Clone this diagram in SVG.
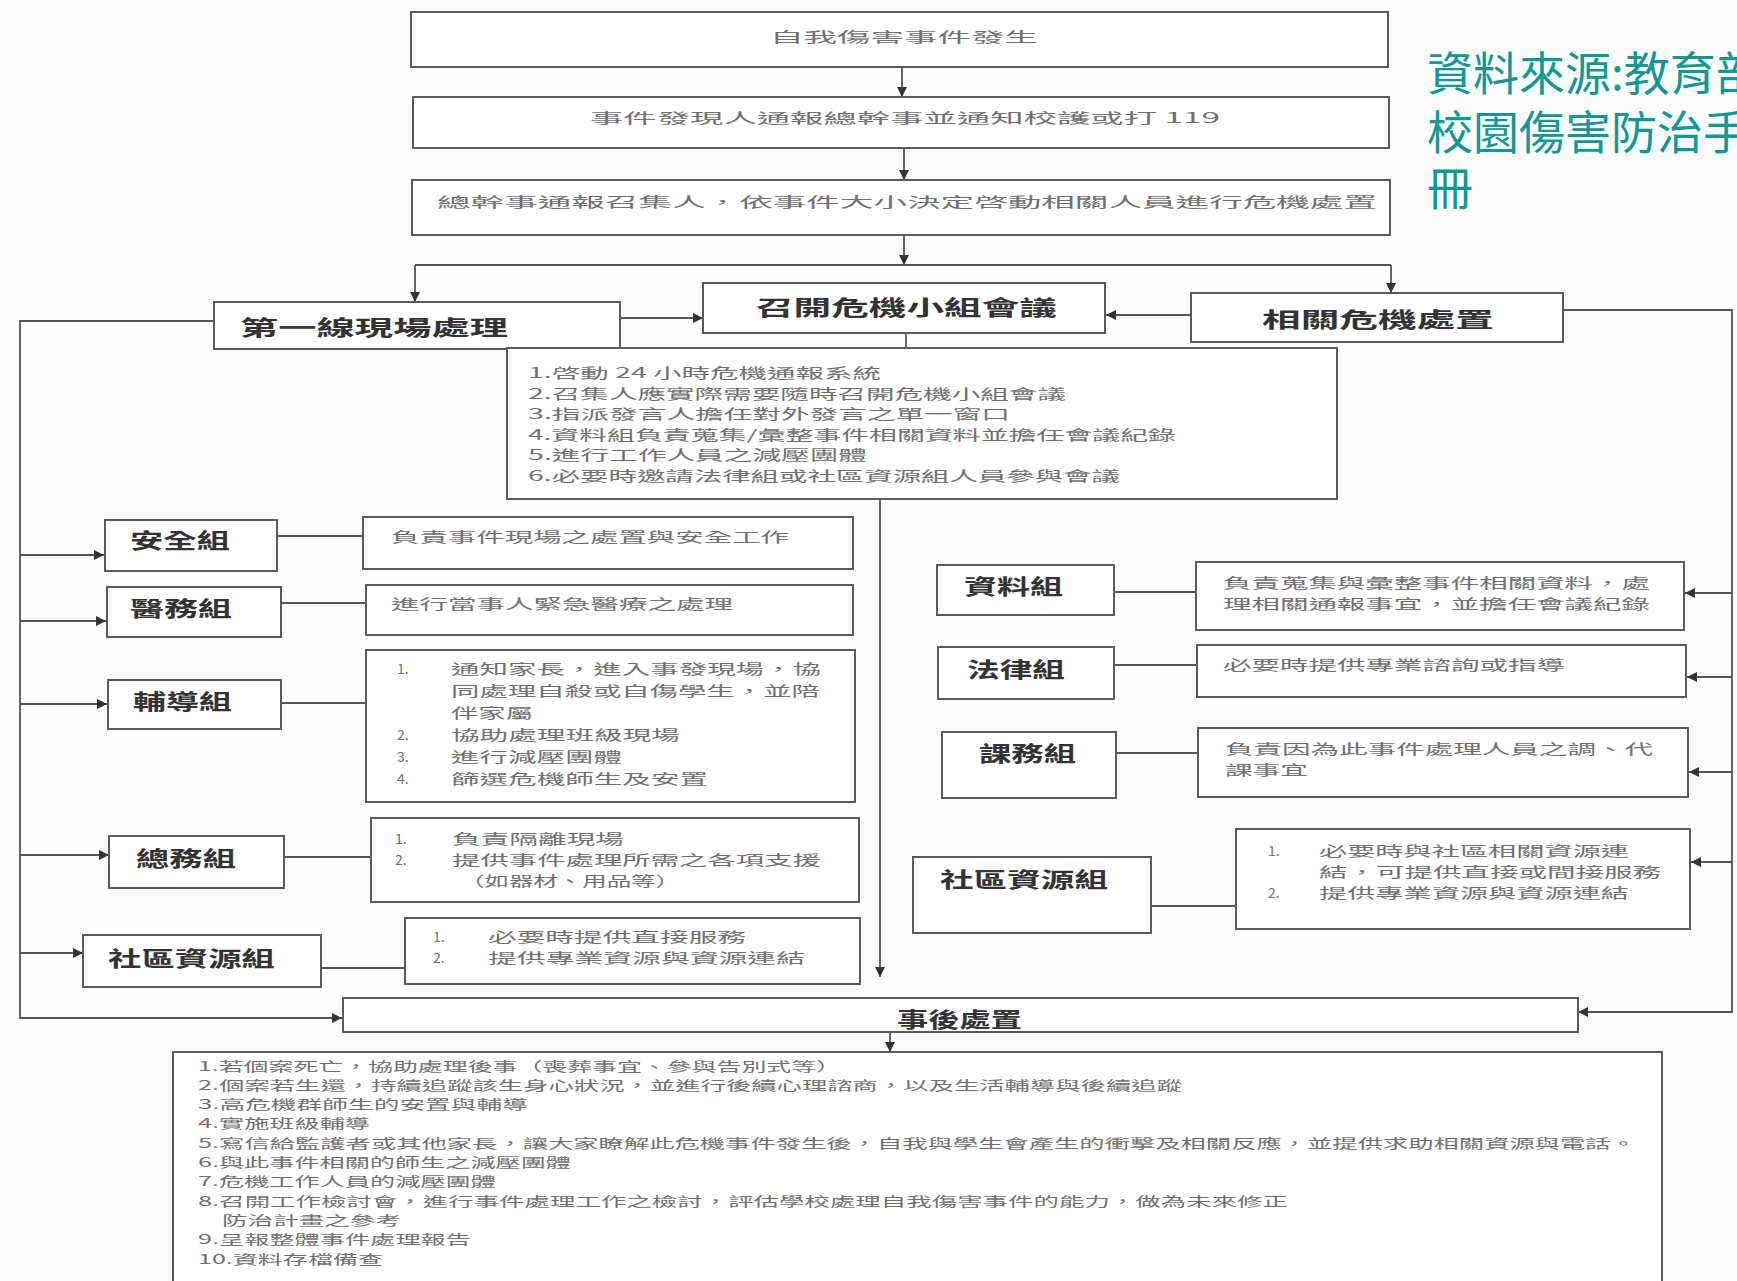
<svg xmlns="http://www.w3.org/2000/svg" width="1737" height="1281" viewBox="0 0 1737 1281">
<defs>
<style>
.bx{fill:#fff;stroke:#5a5a5a;stroke-width:2}
.ln{fill:none;stroke:#555;stroke-width:1.8}
.t{font-family:"Noto Sans CJK TC","Noto Sans CJK SC",sans-serif;fill:#707070;font-size:14px;dominant-baseline:central}
.b{font-family:"Noto Sans CJK TC","Noto Sans CJK SC",sans-serif;fill:#333;font-weight:bold;font-size:21px;dominant-baseline:central}
.s{font-size:13px}
.src{font-family:"Noto Sans CJK TC","Noto Sans CJK SC",sans-serif;fill:#0f9898;font-size:46px}
</style>
<marker id="ah" viewBox="0 0 10 10" refX="10" refY="5" markerWidth="10" markerHeight="10" markerUnits="userSpaceOnUse" orient="auto">
<path d="M0,0 L10,5 L0,10 z" fill="#333"/>
</marker>
</defs>
<rect x="0" y="0" width="1737" height="1281" fill="#fcfcfc"/>

<g id="source">
<text class="src" x="1427" y="90">資料來源:教育部<tspan x="1427" dy="59">校園傷害防治手</tspan><tspan x="1427" dy="56">冊</tspan></text>
</g>

<g id="connectors">
<path class="ln" d="M902,67 V97" marker-end="url(#ah)"/>
<path class="ln" d="M904,148 V180" marker-end="url(#ah)"/>
<path class="ln" d="M904,235 V265" marker-end="url(#ah)"/>
<path class="ln" d="M415,265 H1391"/>
<path class="ln" d="M415,265 V302" marker-end="url(#ah)"/>
<path class="ln" d="M1391,265 V293" marker-end="url(#ah)"/>
<path class="ln" d="M620,318 H703" marker-end="url(#ah)"/>
<path class="ln" d="M1191,315 H1106" marker-end="url(#ah)"/>
<path class="ln" d="M906,333 V348"/>
<path class="ln" d="M880,499 V977" marker-end="url(#ah)"/>
<path class="ln" d="M890,1033 V1052" marker-end="url(#ah)"/>
<path class="ln" d="M214,321 H20 V1018 H342" marker-end="url(#ah)"/>
<path class="ln" d="M20,555 H104" marker-end="url(#ah)"/>
<path class="ln" d="M20,621 H106" marker-end="url(#ah)"/>
<path class="ln" d="M20,704 H107" marker-end="url(#ah)"/>
<path class="ln" d="M20,855 H109" marker-end="url(#ah)"/>
<path class="ln" d="M20,953 H83" marker-end="url(#ah)"/>
<path class="ln" d="M1563,310 H1732 V1012 H1578" marker-end="url(#ah)"/>
<path class="ln" d="M1732,593 H1685" marker-end="url(#ah)"/>
<path class="ln" d="M1732,677 H1687" marker-end="url(#ah)"/>
<path class="ln" d="M1732,772 H1689" marker-end="url(#ah)"/>
<path class="ln" d="M1732,862 H1691" marker-end="url(#ah)"/>
<path class="ln" d="M277,536 H363"/>
<path class="ln" d="M281,603 H366"/>
<path class="ln" d="M281,703 H366"/>
<path class="ln" d="M284,857 H371"/>
<path class="ln" d="M321,968 H405"/>
<path class="ln" d="M1114,592 H1196"/>
<path class="ln" d="M1114,665 H1197"/>
<path class="ln" d="M1116,753 H1198"/>
<path class="ln" d="M1151,906 H1236"/>
</g>

<g id="n-start">
<rect class="bx" x="411" y="12" width="977" height="55"/>
<text class="t" x="770" y="36" font-size="18" textLength="268" lengthAdjust="spacingAndGlyphs">自我傷害事件發生</text>
</g>
<g id="n-report">
<rect class="bx" x="413" y="97" width="976" height="51"/>
<text class="t" x="590" y="117" font-size="17" textLength="630" lengthAdjust="spacingAndGlyphs">事件發現人通報總幹事並通知校護或打 119</text>
</g>
<g id="n-notify">
<rect class="bx" x="412" y="180" width="978" height="55"/>
<text class="t" x="437" y="201" font-size="17" textLength="940" lengthAdjust="spacingAndGlyphs">總幹事通報召集人，依事件大小決定啓動相關人員進行危機處置</text>
</g>
<g id="n-firstline">
<rect class="bx" x="214" y="302" width="406" height="47"/>
<text class="b" x="240" y="326" font-size="24" textLength="268" lengthAdjust="spacingAndGlyphs">第一線現場處理</text>
</g>
<g id="n-meeting">
<rect class="bx" x="703" y="283" width="402" height="50"/>
<text class="b" x="756" y="306" font-size="24" textLength="301" lengthAdjust="spacingAndGlyphs">召開危機小組會議</text>
</g>
<g id="n-related">
<rect class="bx" x="1191" y="293" width="372" height="49"/>
<text class="b" x="1262" y="318" font-size="22" textLength="232" lengthAdjust="spacingAndGlyphs">相關危機處置</text>
</g>
<g id="n-meeting-list">
<rect class="bx" x="507" y="348" width="830" height="151"/>
<text class="t" x="528" y="372" textLength="353" lengthAdjust="spacingAndGlyphs">1.啓動 24 小時危機通報系統</text>
<text class="t" x="528" y="392.6" textLength="538" lengthAdjust="spacingAndGlyphs">2.召集人應實際需要隨時召開危機小組會議</text>
<text class="t" x="528" y="413.2" textLength="482" lengthAdjust="spacingAndGlyphs">3.指派發言人擔任對外發言之單一窗口</text>
<text class="t" x="528" y="433.8" textLength="648" lengthAdjust="spacingAndGlyphs">4.資料組負責蒐集/彙整事件相關資料並擔任會議紀錄</text>
<text class="t" x="528" y="454.4" textLength="339" lengthAdjust="spacingAndGlyphs">5.進行工作人員之減壓團體</text>
<text class="t" x="528" y="475" textLength="592" lengthAdjust="spacingAndGlyphs">6.必要時邀請法律組或社區資源組人員參與會議</text>
</g>

<g id="n-safety">
<rect class="bx" x="105" y="520" width="172" height="51"/>
<text class="b" x="130" y="539" textLength="100" lengthAdjust="spacingAndGlyphs">安全組</text>
</g>
<g id="n-safety-desc">
<rect class="bx" x="363" y="517" width="490" height="52"/>
<text class="t" x="391" y="536" font-size="16" textLength="398" lengthAdjust="spacingAndGlyphs">負責事件現場之處置與安全工作</text>
</g>
<g id="n-medical">
<rect class="bx" x="107" y="587" width="174" height="50"/>
<text class="b" x="130" y="607" textLength="102" lengthAdjust="spacingAndGlyphs">醫務組</text>
</g>
<g id="n-medical-desc">
<rect class="bx" x="366" y="585" width="487" height="50"/>
<text class="t" x="391" y="603" font-size="16" textLength="342" lengthAdjust="spacingAndGlyphs">進行當事人緊急醫療之處理</text>
</g>
<g id="n-counsel">
<rect class="bx" x="108" y="680" width="173" height="49"/>
<text class="b" x="133" y="700" textLength="99" lengthAdjust="spacingAndGlyphs">輔導組</text>
</g>
<g id="n-counsel-desc">
<rect class="bx" x="366" y="650" width="489" height="152"/>
<text class="t" x="397" y="668">1.</text>
<text class="t" x="451" y="668" textLength="370" lengthAdjust="spacingAndGlyphs">通知家長，進入事發現場，協</text>
<text class="t" x="451" y="690" textLength="369" lengthAdjust="spacingAndGlyphs">同處理自殺或自傷學生，並陪</text>
<text class="t" x="451" y="712" textLength="82" lengthAdjust="spacingAndGlyphs">伴家屬</text>
<text class="t" x="397" y="734">2.</text>
<text class="t" x="451" y="734" textLength="229" lengthAdjust="spacingAndGlyphs">協助處理班級現場</text>
<text class="t" x="397" y="756">3.</text>
<text class="t" x="451" y="756" textLength="171" lengthAdjust="spacingAndGlyphs">進行減壓團體</text>
<text class="t" x="397" y="778">4.</text>
<text class="t" x="451" y="778" textLength="257" lengthAdjust="spacingAndGlyphs">篩選危機師生及安置</text>
</g>
<g id="n-general">
<rect class="bx" x="109" y="836" width="175" height="52"/>
<text class="b" x="136" y="857" textLength="100" lengthAdjust="spacingAndGlyphs">總務組</text>
</g>
<g id="n-general-desc">
<rect class="bx" x="371" y="818" width="488" height="84"/>
<text class="t" x="395" y="838">1.</text>
<text class="t" x="452" y="838" textLength="172" lengthAdjust="spacingAndGlyphs">負責隔離現場</text>
<text class="t" x="395" y="859">2.</text>
<text class="t" x="452" y="859" textLength="369" lengthAdjust="spacingAndGlyphs">提供事件處理所需之各項支援</text>
<text class="t" x="460" y="880" textLength="220" lengthAdjust="spacingAndGlyphs">（如器材、用品等）</text>
</g>
<g id="n-community-left">
<rect class="bx" x="83" y="935" width="238" height="52"/>
<text class="b" x="108" y="957" textLength="167" lengthAdjust="spacingAndGlyphs">社區資源組</text>
</g>
<g id="n-community-left-desc">
<rect class="bx" x="405" y="918" width="455" height="66"/>
<text class="t" x="433" y="936">1.</text>
<text class="t" x="488" y="936" textLength="258" lengthAdjust="spacingAndGlyphs">必要時提供直接服務</text>
<text class="t" x="433" y="957">2.</text>
<text class="t" x="488" y="957" textLength="317" lengthAdjust="spacingAndGlyphs">提供專業資源與資源連結</text>
</g>

<g id="n-data">
<rect class="bx" x="937" y="565" width="177" height="50"/>
<text class="b" x="964" y="585" textLength="99" lengthAdjust="spacingAndGlyphs">資料組</text>
</g>
<g id="n-data-desc">
<rect class="bx" x="1196" y="562" width="488" height="68"/>
<text class="t" x="1223" y="582" textLength="427" lengthAdjust="spacingAndGlyphs">負責蒐集與彙整事件相關資料，處</text>
<text class="t" x="1223" y="603" textLength="427" lengthAdjust="spacingAndGlyphs">理相關通報事宜，並擔任會議紀錄</text>
</g>
<g id="n-legal">
<rect class="bx" x="938" y="647" width="176" height="52"/>
<text class="b" x="967" y="668" textLength="98" lengthAdjust="spacingAndGlyphs">法律組</text>
</g>
<g id="n-legal-desc">
<rect class="bx" x="1197" y="645" width="489" height="52"/>
<text class="t" x="1223" y="664" font-size="16" textLength="342" lengthAdjust="spacingAndGlyphs">必要時提供專業諮詢或指導</text>
</g>
<g id="n-course">
<rect class="bx" x="942" y="732" width="174" height="66"/>
<text class="b" x="979" y="752" textLength="97" lengthAdjust="spacingAndGlyphs">課務組</text>
</g>
<g id="n-course-desc">
<rect class="bx" x="1198" y="728" width="490" height="69"/>
<text class="t" x="1225" y="748" textLength="428" lengthAdjust="spacingAndGlyphs">負責因為此事件處理人員之調、代</text>
<text class="t" x="1225" y="769" textLength="83" lengthAdjust="spacingAndGlyphs">課事宜</text>
</g>
<g id="n-community-right">
<rect class="bx" x="913" y="857" width="238" height="76"/>
<text class="b" x="940" y="878" textLength="168" lengthAdjust="spacingAndGlyphs">社區資源組</text>
</g>
<g id="n-community-right-desc">
<rect class="bx" x="1236" y="829" width="454" height="100"/>
<text class="t" x="1268" y="850">1.</text>
<text class="t" x="1319" y="850" textLength="310" lengthAdjust="spacingAndGlyphs">必要時與社區相關資源連</text>
<text class="t" x="1319" y="871" textLength="342" lengthAdjust="spacingAndGlyphs">結，可提供直接或間接服務</text>
<text class="t" x="1268" y="892">2.</text>
<text class="t" x="1319" y="892" textLength="310" lengthAdjust="spacingAndGlyphs">提供專業資源與資源連結</text>
</g>

<g id="n-after">
<rect class="bx" x="343" y="998" width="1235" height="34"/>
<text class="b" x="897" y="1018" textLength="125" lengthAdjust="spacingAndGlyphs">事後處置</text>
</g>
<g id="n-after-list">
<rect class="bx" x="173" y="1052" width="1489" height="260"/>
<text class="t s" x="198" y="1065" textLength="643" lengthAdjust="spacingAndGlyphs">1.若個案死亡，協助處理後事（喪葬事宜、參與告別式等）</text>
<text class="t s" x="198" y="1084.3" textLength="984" lengthAdjust="spacingAndGlyphs">2.個案若生還，持續追蹤該生身心狀況，並進行後續心理諮商，以及生活輔導與後續追蹤</text>
<text class="t s" x="198" y="1103.6" textLength="330" lengthAdjust="spacingAndGlyphs">3.高危機群師生的安置與輔導</text>
<text class="t s" x="198" y="1122.9" textLength="172" lengthAdjust="spacingAndGlyphs">4.實施班級輔導</text>
<text class="t s" x="198" y="1142.2" textLength="1438" lengthAdjust="spacingAndGlyphs">5.寫信給監護者或其他家長，讓大家瞭解此危機事件發生後，自我與學生會產生的衝擊及相關反應，並提供求助相關資源與電話。</text>
<text class="t s" x="198" y="1161.5" textLength="373" lengthAdjust="spacingAndGlyphs">6.與此事件相關的師生之減壓團體</text>
<text class="t s" x="198" y="1180.8" textLength="298" lengthAdjust="spacingAndGlyphs">7.危機工作人員的減壓團體</text>
<text class="t s" x="198" y="1200.1" textLength="1090" lengthAdjust="spacingAndGlyphs">8.召開工作檢討會，進行事件處理工作之檢討，評估學校處理自我傷害事件的能力，做為未來修正</text>
<text class="t s" x="222" y="1219.4" textLength="179" lengthAdjust="spacingAndGlyphs">防治計畫之參考</text>
<text class="t s" x="198" y="1238.7" textLength="273" lengthAdjust="spacingAndGlyphs">9.呈報整體事件處理報告</text>
<text class="t s" x="198" y="1258" textLength="185" lengthAdjust="spacingAndGlyphs">10.資料存檔備查</text>
</g>
</svg>
